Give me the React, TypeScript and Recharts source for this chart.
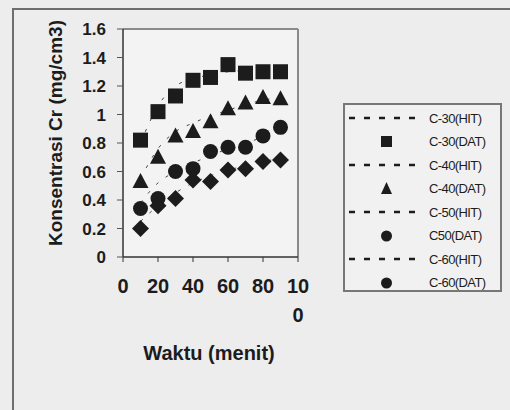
import React from "react";
import {
  ComposedChart,
  Line,
  Scatter,
  XAxis,
  YAxis,
  ReferenceLine,
} from "recharts";

// ---- data ----
const times = [10, 20, 30, 40, 50, 60, 70, 80, 90];
const c30Hit = [0.8, 1.06, 1.2, 1.25, 1.28, 1.3, 1.31, 1.32, 1.32];
const c30Dat = [0.82, 1.02, 1.13, 1.24, 1.26, 1.35, 1.29, 1.3, 1.3];
const c40Hit = [0.55, 0.76, 0.88, 0.94, 0.99, 1.03, 1.07, 1.1, 1.12];
const c40Dat = [0.53, 0.7, 0.85, 0.88, 0.95, 1.04, 1.08, 1.12, 1.11];
const c50Hit = [0.38, 0.52, 0.6, 0.66, 0.71, 0.76, 0.8, 0.84, 0.88];
const c50Dat = [0.34, 0.41, 0.6, 0.62, 0.74, 0.77, 0.77, 0.85, 0.91];
const c60Hit = [0.25, 0.36, 0.45, 0.52, 0.57, 0.61, 0.64, 0.67, 0.69];
const c60Dat = [0.2, 0.36, 0.41, 0.54, 0.53, 0.61, 0.62, 0.67, 0.68];

const yTicks = [0, 0.2, 0.4, 0.6, 0.8, 1, 1.2, 1.4, 1.6];
const xTicks = [0, 20, 40, 60, 80, 100];

const seriesNames = [
  "C-30(HIT)",
  "C-30(DAT)",
  "C-40(HIT)",
  "C-40(DAT)",
  "C-50(HIT)",
  "C50(DAT)",
  "C-60(HIT)",
  "C-60(DAT)",
];
const legendKinds = ["line", "square", "line", "triangle", "line", "circle", "line", "circle"];

const yTitle = "Konsentrasi Cr (mg/cm3)";
const xTitle = "Waktu (menit)";

const data = times.map((t, i) => ({
  t,
  c30h: c30Hit[i],
  c30d: c30Dat[i],
  c40h: c40Hit[i],
  c40d: c40Dat[i],
  c50h: c50Hit[i],
  c50d: c50Dat[i],
  c60h: c60Hit[i],
  c60d: c60Dat[i],
}));

const INK = "#1c1c1c";
const FONT = "'Liberation Sans', Arial, sans-serif";

const SquareShape = (p: any) => (
  <rect x={p.cx - 7.5} y={p.cy - 7.5} width={15} height={15} fill={INK} />
);
const TriangleShape = (p: any) => (
  <polygon
    points={`${p.cx},${p.cy - 8.5} ${p.cx + 8},${p.cy + 6.5} ${p.cx - 8},${p.cy + 6.5}`}
    fill={INK}
  />
);
const CircleShape = (p: any) => <circle cx={p.cx} cy={p.cy} r={7.5} fill={INK} />;
const DiamondShape = (p: any) => (
  <polygon
    points={`${p.cx},${p.cy - 8.5} ${p.cx + 8.5},${p.cy} ${p.cx},${p.cy + 8.5} ${p.cx - 8.5},${p.cy}`}
    fill={INK}
  />
);

const XTick = (props: any) => {
  const { x, y, payload } = props;
  const s = String(payload.value);
  const style = { fontFamily: FONT, fontWeight: 700, fontSize: 20, fill: INK };
  if (s.length > 2) {
    return (
      <g>
        <text x={x} y={y} dy="0.71em" textAnchor="middle" style={style}>
          {s.slice(0, 2)}
        </text>
        <text x={x} y={y + 29} dy="0.71em" textAnchor="middle" style={style}>
          {s.slice(2)}
        </text>
      </g>
    );
  }
  return (
    <text x={x} y={y} dy="0.71em" textAnchor="middle" style={style}>
      {s}
    </text>
  );
};

const LegendIcon = ({ kind }: { kind: string }) => {
  if (kind === "line")
    return (
      <svg width={74} height={10}>
        <line x1={0} y1={5} x2={74} y2={5} stroke={INK} strokeWidth={2.5} strokeDasharray="6 9" />
      </svg>
    );
  return (
    <svg width={74} height={14}>
      {kind === "square" && <rect x={32} y={1} width={11} height={11} fill={INK} />}
      {kind === "triangle" && <polygon points="37.5,0 43,12 32,12" fill={INK} />}
      {kind === "circle" && <circle cx={37.5} cy={7} r={5.5} fill={INK} />}
    </svg>
  );
};

export default function App() {
  return (
    <div
      style={{
        position: "absolute",
        left: 0,
        top: 0,
        width: 510,
        height: 410,
        overflow: "hidden",
        background: "#ededed",
      }}
    >
      <div
        style={{
          position: "absolute",
          left: 12,
          top: 8,
          width: 520,
          height: 430,
          borderLeft: "2px solid #6e6e6e",
          borderTop: "2px solid #6e6e6e",
        }}
      />
      <div style={{ position: "absolute", left: 0, top: 0 }}>
        <ComposedChart
          width={510}
          height={410}
          data={data}
          margin={{ top: 29, right: 212, bottom: 0, left: 0 }}
        >
          <rect x={123} y={29} width={175} height={228} fill="#f3f3f3" />
          <XAxis
            type="number"
            dataKey="t"
            domain={[0, 100]}
            ticks={xTicks}
            height={153}
            tickSize={5}
            tickMargin={17}
            tick={<XTick />}
            axisLine={{ stroke: "#333", strokeWidth: 1.5 }}
            tickLine={{ stroke: "#333" }}
            label={{
              content: () => (
                <text
                  x={209}
                  y={353}
                  dy="0.35em"
                  textAnchor="middle"
                  style={{ fontFamily: FONT, fontWeight: 700, fontSize: 20, fill: INK }}
                >
                  {xTitle}
                </text>
              ),
            }}
          />
          <YAxis
            type="number"
            domain={[0, 1.6]}
            ticks={yTicks}
            width={123}
            tickSize={6}
            tickMargin={11}
            tick={{ fontFamily: FONT, fontWeight: 700, fontSize: 17, fill: INK }}
            axisLine={{ stroke: "#333", strokeWidth: 1.5 }}
            tickLine={{ stroke: "#555" }}
            label={{
              content: () => (
                <text
                  x={55}
                  y={133}
                  dy="0.35em"
                  textAnchor="middle"
                  transform="rotate(-90 55 133)"
                  style={{ fontFamily: FONT, fontWeight: 700, fontSize: 19, fill: INK }}
                >
                  {yTitle}
                </text>
              ),
            }}
          />
          <ReferenceLine y={1.6} stroke="#8a8a8a" strokeWidth={2} />
          <ReferenceLine x={100} stroke="#8a8a8a" strokeWidth={2} />

          <Line dataKey="c30h" name={seriesNames[0]} type="monotone" stroke="#444" strokeWidth={1} strokeDasharray="3 9" dot={false} isAnimationActive={false} />
          <Line dataKey="c40h" name={seriesNames[2]} type="monotone" stroke="#444" strokeWidth={1} strokeDasharray="3 9" dot={false} isAnimationActive={false} />
          <Line dataKey="c50h" name={seriesNames[4]} type="monotone" stroke="#444" strokeWidth={1} strokeDasharray="3 9" dot={false} isAnimationActive={false} />
          <Line dataKey="c60h" name={seriesNames[6]} type="monotone" stroke="#444" strokeWidth={1} strokeDasharray="3 9" dot={false} isAnimationActive={false} />

          <Scatter dataKey="c30d" name={seriesNames[1]} shape={SquareShape} isAnimationActive={false} />
          <Scatter dataKey="c40d" name={seriesNames[3]} shape={TriangleShape} isAnimationActive={false} />
          <Scatter dataKey="c50d" name={seriesNames[5]} shape={CircleShape} isAnimationActive={false} />
          <Scatter dataKey="c60d" name={seriesNames[7]} shape={DiamondShape} isAnimationActive={false} />
        </ComposedChart>
      </div>
      <div
        style={{
          position: "absolute",
          left: 343,
          top: 103,
          width: 155,
          height: 185,
          border: "2px solid #777",
          background: "#f1f1f1",
          boxSizing: "content-box",
        }}
      >
        {seriesNames.map((n, i) => (
          <div
            key={n}
            style={{
              position: "absolute",
              left: 4,
              top: 3 + i * 23.5,
              height: 20,
              display: "flex",
              alignItems: "center",
            }}
          >
            <LegendIcon kind={legendKinds[i]} />
            <span
              style={{
                marginLeft: 6,
                fontFamily: FONT,
                fontSize: 13,
                color: INK,
                letterSpacing: -0.6,
              }}
            >
              {n}
            </span>
          </div>
        ))}
      </div>
    </div>
  );
}
